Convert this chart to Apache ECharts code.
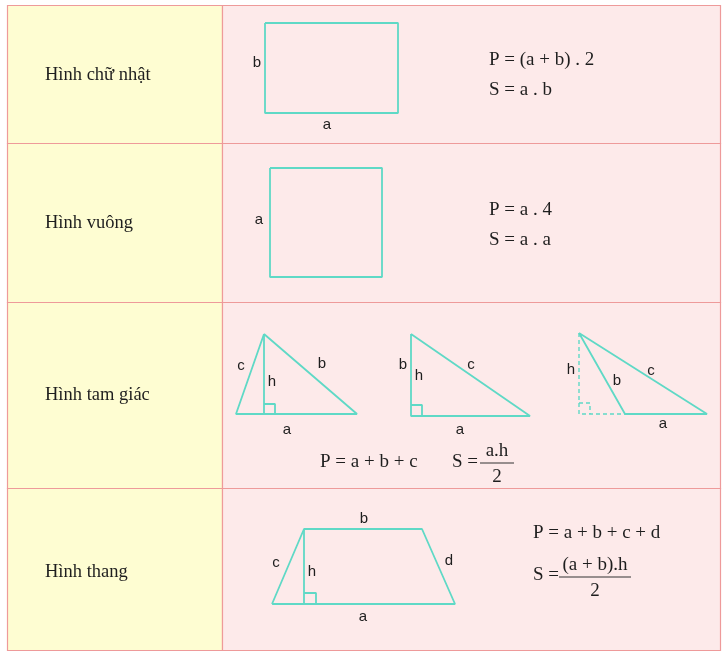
<!DOCTYPE html>
<html>
<head>
<meta charset="utf-8">
<script src="https://cdn.jsdelivr.net/npm/echarts@6/dist/echarts.min.js"></script>
<style>
  html, body { margin: 0; padding: 0; background: #fff; }
  #main { width: 722px; height: 652px; }
</style>
</head>
<body>
<div id="main"></div>
<script>
// table layout (page pixels, y down)
var colEdges = [7, 222, 720];
var rowEdges = [5, 143, 302, 488, 650];
var rowNames = ['Hình chữ nhật', 'Hình vuông', 'Hình tam giác', 'Hình thang'];
var rowNameY = [75, 223, 395, 572];

// figure outlines
var rectShape = [[265, 23], [398, 23], [398, 113], [265, 113], [265, 23]];
var squareShape = [[270, 168], [382, 168], [382, 277], [270, 277], [270, 168]];
var tri1 = [[264, 334], [236, 414], [357, 414], [264, 334]];
var tri1H = [[264, 334], [264, 414]];
var tri1R = [[264, 404], [275, 404], [275, 414]];
var tri2 = [[411, 334], [411, 416], [530, 416], [411, 334]];
var tri2R = [[411, 405], [422, 405], [422, 416]];
var tri3 = [[579, 333], [625, 414], [707, 414], [579, 333]];
var tri3H = [[579, 333], [579, 414], [625, 414]];
var tri3R = [[579, 403], [590, 403], [590, 414]];
var trap = [[272, 604], [304, 529], [422, 529], [455, 604], [272, 604]];
var trapH = [[304, 529], [304, 604]];
var trapR = [[304, 593], [316, 593], [316, 604]];

var solidShapes = [rectShape, squareShape, tri1, tri1H, tri1R, tri2, tri2R, tri3, trap, trapH, trapR];
var dashedShapes = [tri3H, tri3R];

// edge letters [text, x, y]
var letters = [
  ['b', 257, 63], ['a', 327, 125],
  ['a', 259, 220],
  ['c', 241, 366], ['b', 322, 364], ['h', 272, 382], ['a', 287, 430],
  ['b', 403, 365], ['h', 419, 376], ['c', 471, 365], ['a', 460, 430],
  ['h', 571, 370], ['b', 617, 381], ['c', 651, 371], ['a', 663, 424],
  ['b', 364, 519], ['c', 276, 563], ['h', 312, 572], ['d', 449, 561], ['a', 363, 617]
];

// formulas [text, x(left), y]
var formulas = [
  ['P = (a + b) . 2', 489, 60], ['S = a . b', 489, 90],
  ['P = a . 4', 489, 210], ['S = a . a', 489, 240],
  ['P = a + b + c', 320, 462], ['S =', 452, 462],
  ['P = a + b + c + d', 533, 533], ['S =', 533, 575]
];

// fractions [numerator, denominator, centerX, barY, halfWidth]
var fractions = [
  ['a.h', '2', 497, 463, 17],
  ['(a + b).h', '2', 595, 577, 36]
];

var serif = '"Liberation Serif", "DejaVu Serif", serif';
var sans = '"Liberation Sans", Arial, sans-serif';
var teal = '#5fd9c6';
var ink = '#1e1e1e';

var mycharts = echarts.init(document.getElementById('main'));

function textSeries(items, font, color, align) {
  return {
    type: 'custom',
    coordinateSystem: 'cartesian2d',
    clip: false,
    silent: true,
    data: items.map(function (d) { return [d[1], d[2]]; }),
    renderItem: function (params, api) {
      var p = api.coord([api.value(0), api.value(1)]);
      return {
        type: 'text',
        x: p[0], y: p[1],
        style: {
          text: items[params.dataIndex][0],
          font: font,
          fill: color,
          align: align,
          verticalAlign: 'middle'
        }
      };
    }
  };
}

var series = [];

// table cells
var cells = [];
for (var r = 0; r < rowNames.length; r++) {
  for (var c = 0; c < 2; c++) {
    cells.push([colEdges[c], rowEdges[r], colEdges[c + 1], rowEdges[r + 1], c]);
  }
}
series.push({
  type: 'custom',
  coordinateSystem: 'cartesian2d',
  clip: false,
  silent: true,
  data: cells,
  renderItem: function (params, api) {
    var a = api.coord([api.value(0), api.value(1)]);
    var b = api.coord([api.value(2), api.value(3)]);
    return {
      type: 'rect',
      shape: { x: a[0] + 0.5, y: a[1] + 0.5, width: b[0] - a[0], height: b[1] - a[1] },
      style: {
        fill: api.value(4) === 0 ? '#fefdd2' : '#fdeaea',
        stroke: '#ee9a9a',
        lineWidth: 1.2
      }
    };
  }
});

solidShapes.forEach(function (s) {
  series.push({
    type: 'line', data: s, symbol: 'none', silent: true,
    lineStyle: { color: teal, width: 1.8 }
  });
});
dashedShapes.forEach(function (s) {
  series.push({
    type: 'line', data: s, symbol: 'none', silent: true,
    lineStyle: { color: teal, width: 1.4, type: [4, 3] }
  });
});

// fraction bars
fractions.forEach(function (f) {
  series.push({
    type: 'line', data: [[f[2] - f[4], f[3]], [f[2] + f[4], f[3]]], symbol: 'none', silent: true,
    lineStyle: { color: '#333', width: 1 }
  });
});

series.push(textSeries(rowNames.map(function (n, i) { return [n, 45, rowNameY[i]]; }), '18.5px ' + serif, ink, 'left'));
series.push(textSeries(letters, '15px ' + sans, ink, 'center'));
series.push(textSeries(formulas, '19px ' + serif, ink, 'left'));
series.push(textSeries(fractions.map(function (f) { return [f[0], f[2], f[3] - 12]; }), '19px ' + serif, ink, 'center'));
series.push(textSeries(fractions.map(function (f) { return [f[1], f[2], f[3] + 14]; }), '19px ' + serif, ink, 'center'));

var options = {
  animation: false,
  grid: { left: 0, right: 0, top: 0, bottom: 0 },
  xAxis: { type: 'value', min: 0, max: 722, show: false },
  yAxis: { type: 'value', min: 0, max: 652, inverse: true, show: false },
  series: series
};
mycharts.setOption(options);
</script>
</body>
</html>
